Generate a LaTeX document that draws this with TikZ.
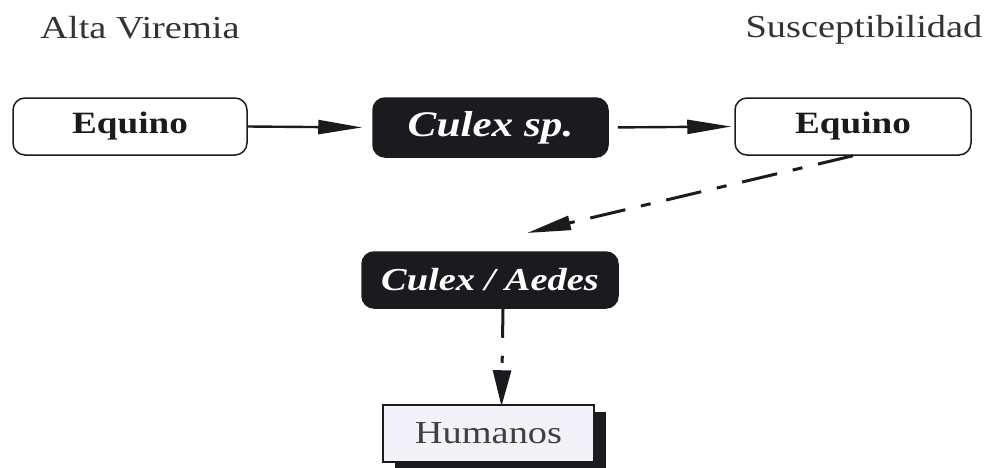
\documentclass[tikz,border=0pt]{standalone}
\usepackage{fontspec}
\setmainfont{Liberation Serif}[FakeStretch=1.2]
\usetikzlibrary{arrows.meta,shadows}
\definecolor{inkblack}{HTML}{1B1A1E}
\definecolor{paleblue}{HTML}{F3F2F8}
\begin{document}
\begin{tikzpicture}[x=1pt,y=-1pt,
  lightbox/.style={draw=inkblack, line width=1.5pt, rounded corners=12pt, fill=white,
    minimum width=#1, minimum height=57pt, inner sep=0pt,
    font=\fontsize{31}{36}\selectfont\bfseries, text=inkblack},
  darkbox/.style={draw=inkblack, line width=1.5pt, rounded corners=12pt, fill=inkblack,
    minimum width=#1, minimum height=57pt, inner sep=0pt, text=white},
  hostbox/.style={draw=inkblack, line width=1.5pt, fill=paleblue,
    minimum width=211pt, minimum height=57pt, inner sep=0pt,
    font=\fontsize{32}{38}\selectfont, text=black!75,
    drop shadow={shadow xshift=12pt, shadow yshift=-7pt, opacity=1, fill=inkblack}},
  heading/.style={anchor=base, font=\fontsize{32}{38}\selectfont, text=black!80},
  flow/.style={line width=2.4pt, draw=inkblack,
    -{Triangle[length=44pt,width=14pt]}},
  dashflow/.style={flow, line width=3pt, dash pattern=on 36pt off 16pt on 10pt off 16pt},
]
\useasboundingbox (0,0) rectangle (987,467);

% column headings
\node[heading] (hv) at (140,38) {Alta Viremia};
\node[heading] (hs) at (864,37) {Susceptibilidad};

% top row
\node[lightbox=234pt] (eqL) at (130,126.5) {Equino};
\node[darkbox=235pt, minimum height=59pt,
      font=\fontsize{36}{42}\selectfont\bfseries\itshape] (cs) at (490.5,127.5) {Culex sp.};
\node[lightbox=236pt] (eqR) at (853,126.5) {Equino};

% second vector and host
\node[darkbox=256pt, minimum height=56pt,
      font=\fontsize{32}{38}\selectfont\bfseries\itshape] (ca) at (490,280) {Culex / Aedes};
\node[hostbox] (hm) at (488.5,433.5) {Humanos};

% connectors
\draw[flow, shorten >=10pt] (eqL.east) -- (cs.west);
\draw[flow, shorten <=9pt, shorten >=3pt] (cs.east) -- (eqR.west);

\coordinate (tipA) at (527,233);
\draw[dashflow] (eqR.south) -- (tipA);

\draw[flow, line width=3pt, dash pattern=on 29pt off 18pt on 7pt off 18pt,
      -{Triangle[length=36pt,width=18pt]}]
  ([xshift=13pt]ca.south) -- ([xshift=13pt,yshift=-2pt]hm.north);
\end{tikzpicture}
\end{document}
